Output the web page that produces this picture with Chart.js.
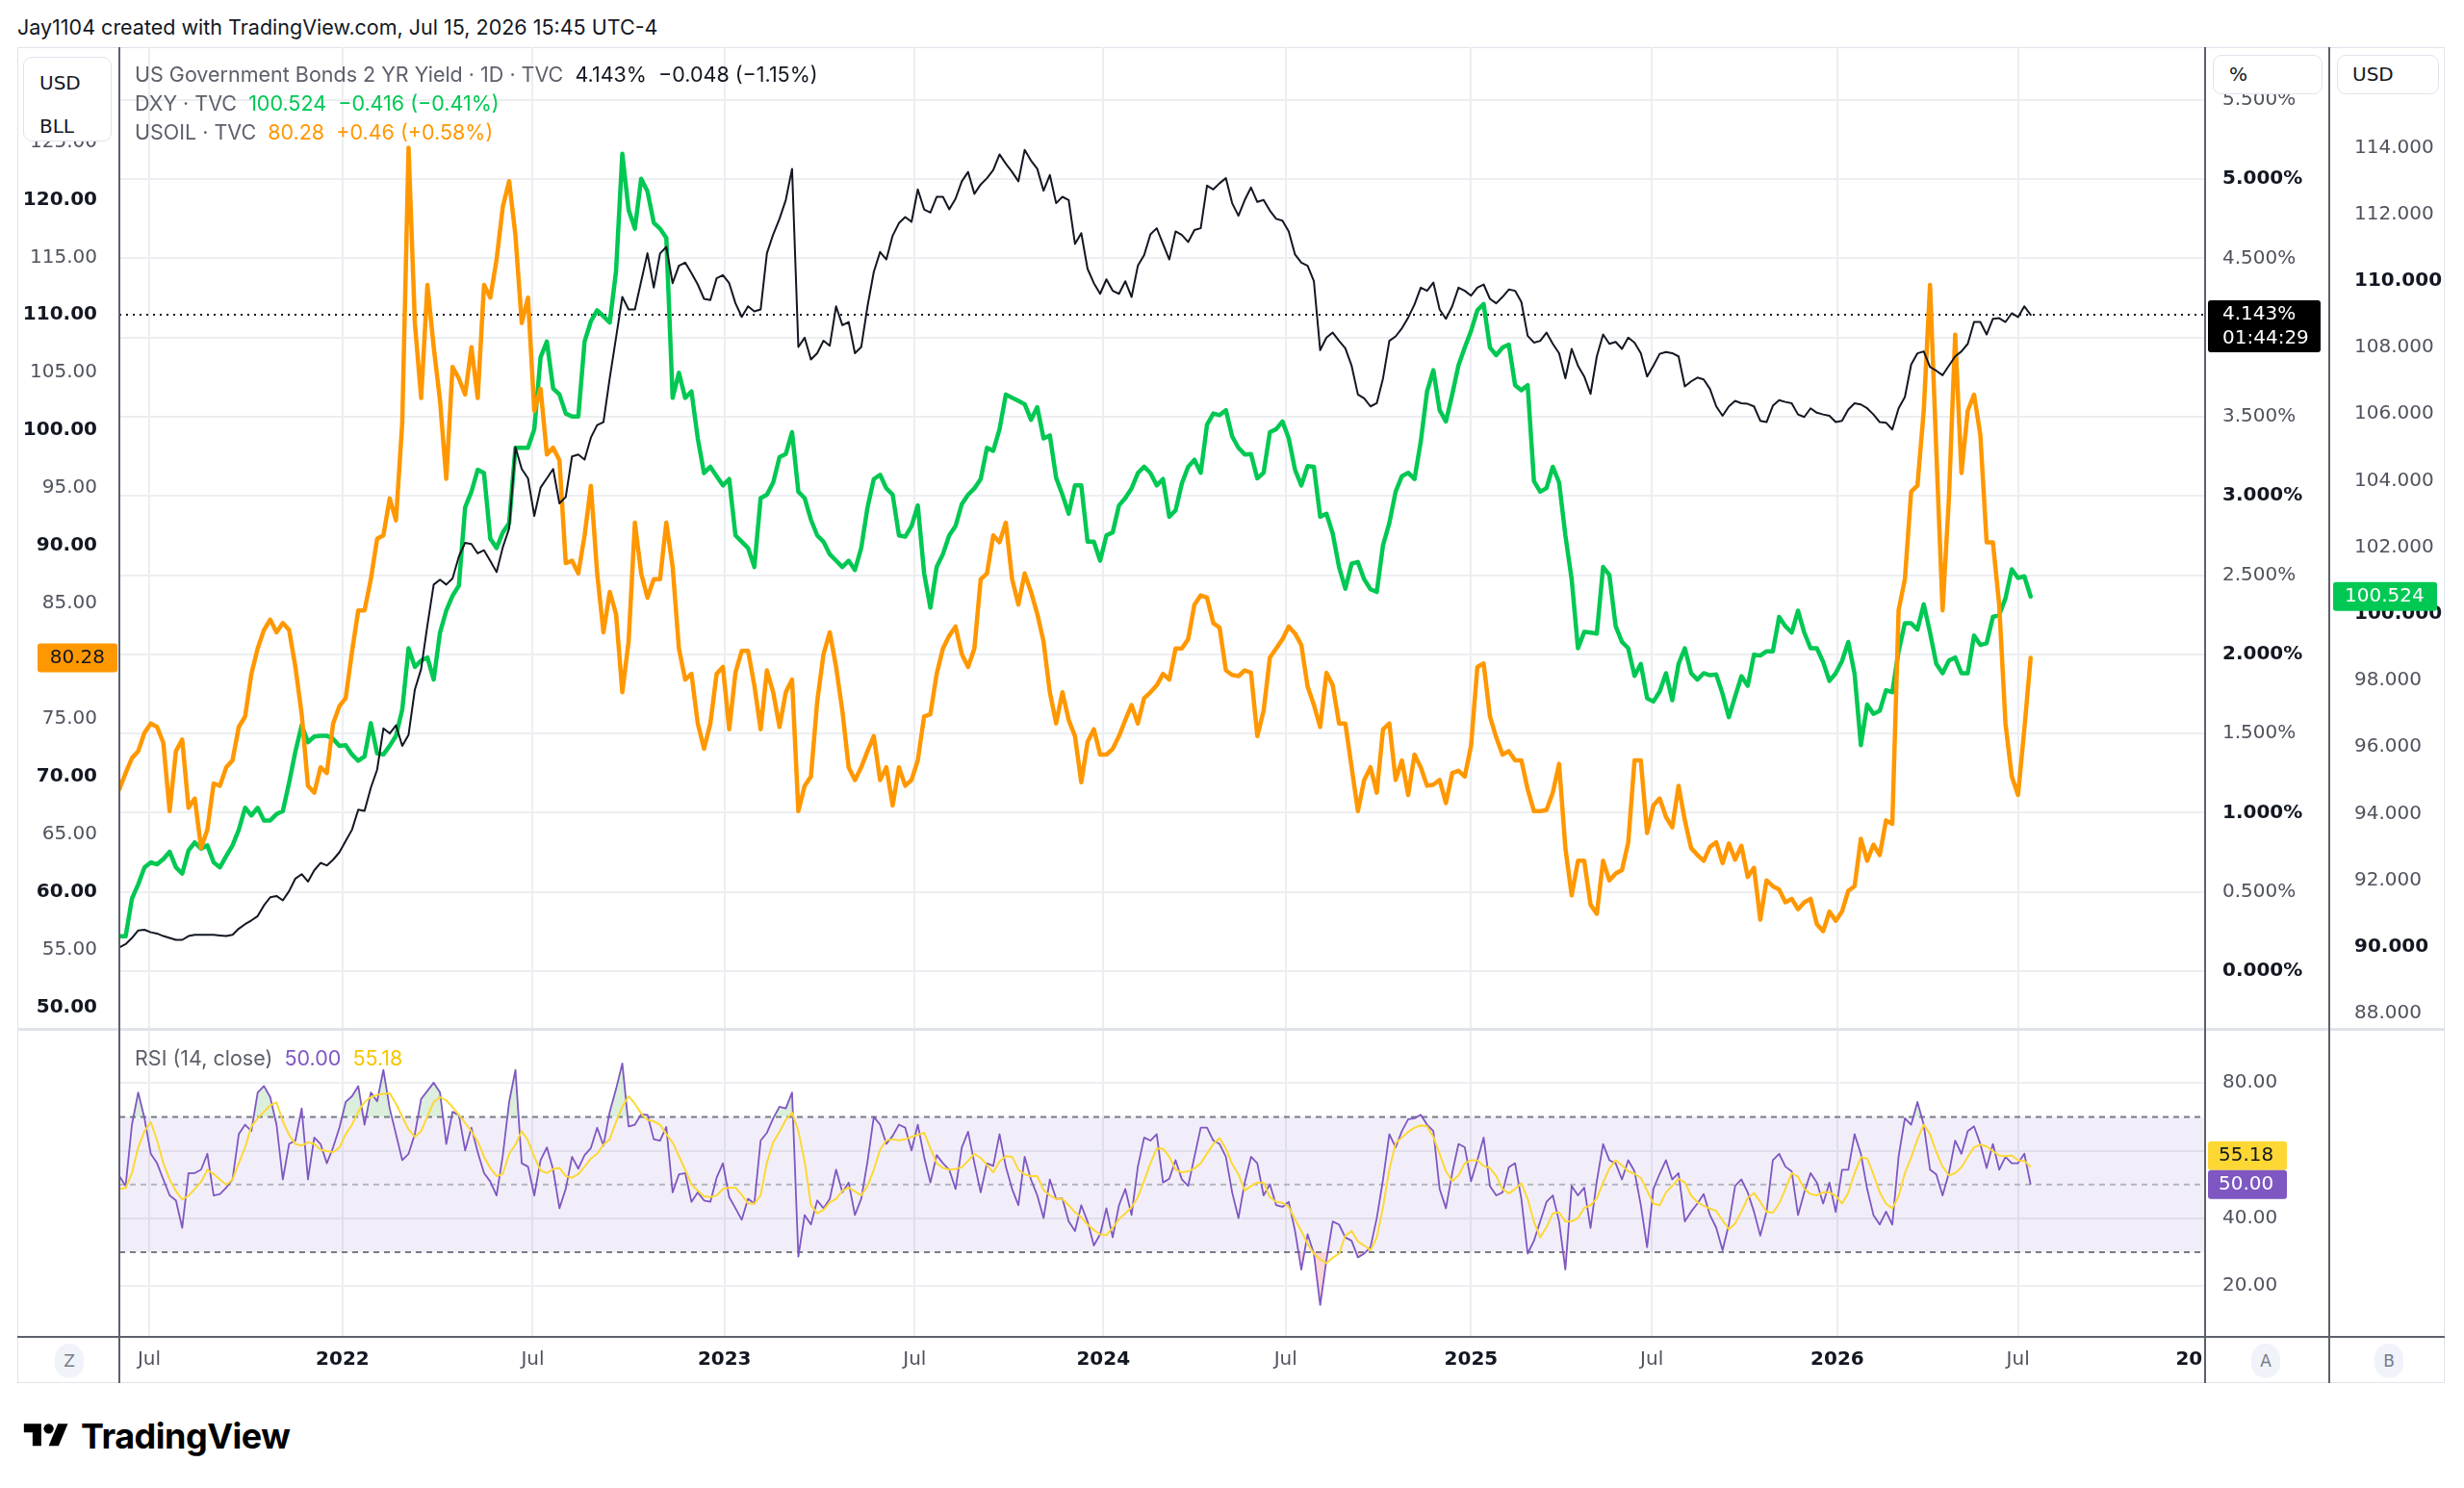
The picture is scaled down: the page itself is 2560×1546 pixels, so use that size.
<!DOCTYPE html>
<html>
<head>
<meta charset="utf-8">
<title>US02Y vs DXY vs USOIL</title>
<script src="https://cdn.jsdelivr.net/npm/chart.js@4.4.1/dist/chart.umd.min.js"></script>
<style>
  html, body { margin: 0; padding: 0; background: #fff; width: 2560px; height: 1546px; overflow: hidden;
    font-family: Inter, "Noto Sans", "Liberation Sans", sans-serif; color: #131722; }
  .abs { position: absolute; }
  #hdr { left: 18px; top: 14px; font-size: 21.5px; line-height: 28px; }
  #frame { left: 18px; top: 49px; width: 2522px; height: 1388px; border: 1px solid #e0e3eb; box-sizing: border-box; }
  canvas { position: absolute; }
  .vline { width: 2px; background: #5d606b; top: 49px; height: 1388px; z-index: 3; }
  .legend { left: 140px; font-size: 21.5px; line-height: 30px; color: #5d606b; z-index: 4; white-space: pre; }
  .box { background: #fff; border: 1px solid #e0e3eb; border-radius: 9px; box-sizing: border-box; z-index: 5;
    font-family: "DejaVu Sans", sans-serif; font-size: 20px; color: #131722; }
  .pill { width: 30px; height: 36px; border-radius: 15px; background: #f0f3fa; color: #787b86; z-index: 5;
    font-family: "DejaVu Sans", sans-serif; font-size: 17px; line-height: 36px; text-align: center; }
  #logo { left: 20px; top: 1470px; display: flex; align-items: center; gap: 8px; font-weight: 700; font-size: 36px;
    letter-spacing: -0.5px; color: #000; }
</style>
</head>
<body>
<div id="hdr" class="abs">Jay1104 created with TradingView.com, Jul 15, 2026 15:45 UTC-4</div>
<div id="frame" class="abs"></div>
<canvas id="main" width="2522" height="1020" style="left:18px;top:49px;width:2522px;height:1020px"></canvas>
<canvas id="rsi" width="2522" height="368" style="left:18px;top:1069px;width:2522px;height:368px"></canvas>

<div class="abs" style="left:18px;top:1068px;width:2522px;height:3px;background:#e0e3eb;z-index:2"></div>
<div class="abs" style="left:18px;top:1388px;width:2522px;height:2px;background:#5d606b;z-index:2"></div>
<div class="abs vline" style="left:123px"></div>
<div class="abs vline" style="left:2290px"></div>
<div class="abs vline" style="left:2419px"></div>

<div class="abs legend" style="top:62px">US Government Bonds 2 YR Yield · 1D · TVC  <span style="color:#131722">4.143%  −0.048 (−1.15%)</span>
DXY · TVC  <span style="color:#00c853">100.524  −0.416 (−0.41%)</span>
USOIL · TVC  <span style="color:#ff9800">80.28  +0.46 (+0.58%)</span></div>
<div class="abs legend" style="top:1084px">RSI (14, close)  <span style="color:#7e57c2">50.00</span>  <span style="color:#f7c600">55.18</span></div>

<div class="abs box" style="left:24px;top:59px;width:92px;height:88px;padding:4px 0 0 16px;line-height:45px">USD<br>BLL</div>
<div class="abs box" style="left:2299px;top:57px;width:114px;height:41px;padding-left:16px;line-height:39px">%</div>
<div class="abs box" style="left:2428px;top:57px;width:106px;height:41px;padding-left:15px;line-height:39px">USD</div>

<div class="abs pill" style="left:57px;top:1396px">Z</div>
<div class="abs pill" style="left:2339px;top:1396px">A</div>
<div class="abs pill" style="left:2467px;top:1396px">B</div>

<div id="logo" class="abs">
  <svg width="56" height="36" viewBox="0 0 36 28"><path d="M14 22H7V11H0V4h14v18z" fill="#000"/><circle cx="20" cy="8" r="4" fill="#000"/><path d="M28 22h-8l7.5-18h8L28 22z" fill="#000"/></svg>
  <span>TradingView</span>
</div>

<script>
// ===== DATA (one sample every ~4 screen px, Jun 2021 -> Jul 15 2026) =====
const US02Y = [
  0.150, 0.170, 0.209, 0.257, 0.261, 0.245, 0.237, 0.221, 0.209, 0.197,
  0.197, 0.221, 0.229, 0.229, 0.229, 0.229, 0.225, 0.221, 0.229, 0.268,
  0.296, 0.320, 0.347, 0.415, 0.466, 0.474, 0.446, 0.505, 0.584, 0.612,
  0.565, 0.636, 0.683, 0.667, 0.703, 0.750, 0.821, 0.892, 1.019, 1.011,
  1.157, 1.271, 1.532, 1.500, 1.552, 1.421, 1.492, 1.777, 1.907, 2.183,
  2.440, 2.471, 2.440, 2.479, 2.617, 2.704, 2.696, 2.637, 2.657, 2.590,
  2.519, 2.677, 2.795, 3.308, 3.170, 3.111, 2.874, 3.052, 3.111, 3.170,
  2.953, 2.993, 3.249, 3.261, 3.229, 3.368, 3.447, 3.466, 3.743, 3.999,
  4.256, 4.177, 4.177, 4.355, 4.532,
  4.315, 4.530, 4.572, 4.343, 4.453, 4.473, 4.406, 4.335, 4.244, 4.236,
  4.374, 4.394, 4.343, 4.216, 4.130, 4.197, 4.165, 4.177, 4.532, 4.651,
  4.749, 4.868, 5.065, 3.940, 3.999, 3.861, 3.901, 3.980, 3.948, 4.197,
  4.078, 4.098, 3.901, 3.940, 4.197, 4.414, 4.540, 4.493, 4.643, 4.722,
  4.761, 4.730, 4.935, 4.809, 4.789, 4.888, 4.888, 4.809, 4.876, 4.986,
  5.045, 4.907, 4.966, 5.006, 5.057, 5.156, 5.097, 5.045, 4.986, 5.184,
  5.117, 5.065, 4.927, 5.026, 4.848, 4.888, 4.868, 4.591, 4.659, 4.434,
  4.343, 4.276, 4.367, 4.295, 4.276, 4.355, 4.256, 4.453, 4.520, 4.651,
  4.690, 4.591, 4.493, 4.670,
  4.647, 4.603, 4.678, 4.690, 4.959, 4.935, 4.974, 5.006, 4.848, 4.769,
  4.868, 4.947, 4.856, 4.868, 4.801, 4.749, 4.738, 4.670, 4.524, 4.473,
  4.453, 4.355, 3.920, 3.999, 4.031, 3.979, 3.932, 3.822, 3.640, 3.616,
  3.565, 3.585, 3.743, 3.979, 4.007, 4.058, 4.126, 4.208, 4.315, 4.295,
  4.347, 4.177, 4.118, 4.197, 4.315, 4.295, 4.264, 4.315, 4.335, 4.244,
  4.216, 4.256, 4.303, 4.295, 4.224, 4.011, 3.968, 3.979, 4.031, 3.960,
  3.901, 3.743, 3.928, 3.822, 3.754, 3.644, 3.881, 4.019, 3.960, 3.972,
  3.928, 3.999, 3.968, 3.901, 3.754, 3.822, 3.897, 3.908, 3.901, 3.881,
  3.691, 3.723, 3.747, 3.735,
  3.675, 3.565, 3.506, 3.565, 3.600, 3.585, 3.581, 3.565, 3.474, 3.466,
  3.569, 3.604, 3.593, 3.585, 3.514, 3.498, 3.553, 3.525, 3.514, 3.506,
  3.466, 3.474, 3.545, 3.585, 3.577, 3.553, 3.514, 3.466, 3.462, 3.419,
  3.553, 3.624, 3.829, 3.900, 3.912, 3.814, 3.790, 3.762, 3.822, 3.881,
  3.912, 3.960, 4.098, 4.098, 4.019, 4.118, 4.122, 4.098, 4.153, 4.129,
  4.197, 4.143
];
const DXY = [
  90.32, 90.32, 91.45, 91.88, 92.39, 92.54, 92.48, 92.64, 92.86, 92.39,
  92.20, 92.90, 93.14, 92.95, 93.05, 92.54, 92.39, 92.73, 93.05, 93.52,
  94.18, 93.95, 94.18, 93.80, 93.80, 93.99, 94.08, 94.93, 95.87, 96.66,
  96.15, 96.32, 96.34, 96.34, 96.25, 96.04, 96.06, 95.78, 95.59, 95.72,
  96.72, 95.81, 95.78, 96.04, 96.34, 97.13, 98.97, 98.41, 98.60, 98.69,
  98.03, 99.44, 100.10, 100.55, 100.85, 103.20, 103.67, 104.33, 104.23, 102.26,
  101.98, 102.45, 102.73, 104.99, 104.99, 104.99, 105.55, 107.71, 108.18, 106.77,
  106.59, 106.02, 105.93, 105.93, 108.18, 108.79, 109.12, 108.94, 108.75, 110.29,
  113.82, 112.13, 111.57, 113.07, 112.69,
  111.75, 111.57, 111.29, 106.49, 107.24, 106.49, 106.68, 105.27, 104.23, 104.42,
  104.14, 103.86, 104.05, 102.36, 102.17, 101.98, 101.41, 103.48, 103.58, 103.95,
  104.71, 104.80, 105.46, 103.67, 103.48, 102.83, 102.36, 102.17, 101.79, 101.60,
  101.41, 101.60, 101.32, 101.98, 103.20, 104.05, 104.18, 103.77, 103.58, 102.36,
  102.32, 102.64, 103.26, 101.23, 100.19, 101.41, 101.80, 102.36, 102.64, 103.30,
  103.58, 103.77, 104.05, 104.99, 104.90, 105.55, 106.59, 106.49, 106.40, 106.30,
  105.83, 106.21, 105.27, 105.36, 104.09, 103.58, 103.01, 103.86, 103.86, 102.17,
  102.17, 101.60, 102.36, 102.45, 103.26, 103.48, 103.77, 104.23, 104.42, 104.23,
  103.86, 104.05, 102.92, 103.11,
  103.92, 104.42, 104.63, 104.24, 105.68, 106.02, 105.97, 106.12, 105.33, 104.99,
  104.79, 104.80, 104.07, 104.24, 105.46, 105.55, 105.78, 105.27, 104.33, 103.86,
  104.44, 104.42, 102.92, 103.01, 102.41, 101.41, 100.76, 101.51, 101.56, 101.04,
  100.74, 100.66, 102.07, 102.73, 103.67, 104.14, 104.24, 104.05, 105.18, 106.68,
  107.32, 106.12, 105.78, 106.59, 107.47, 108.00, 108.50, 109.12, 109.31, 108.00,
  107.77, 108.00, 108.09, 106.87, 106.72, 106.87, 103.99, 103.67, 103.78, 104.42,
  103.95, 102.36, 101.04, 98.97, 99.46, 99.44, 99.41, 101.41, 101.17, 99.63,
  99.16, 98.97, 98.14, 98.50, 97.47, 97.37, 97.67, 98.22, 97.41, 98.50,
  98.97, 98.22, 98.03, 98.22,
  98.16, 98.18, 97.60, 96.90, 97.52, 98.13, 97.84, 98.78, 98.75, 98.88,
  98.88, 99.91, 99.63, 99.44, 100.10, 99.44, 98.97, 98.97, 98.56, 97.99,
  98.22, 98.59, 99.16, 98.20, 96.06, 97.28, 97.00, 97.09, 97.71, 97.65,
  98.88, 99.72, 99.72, 99.53, 100.29, 99.44, 98.50, 98.22, 98.60, 98.69,
  98.22, 98.22, 99.35, 99.07, 99.12, 99.91, 99.97, 100.47, 101.34, 101.08,
  101.13, 100.524
];
const USOIL = [
  68.9, 70.3, 71.6, 72.2, 73.8, 74.6, 74.3, 72.9, 67.0, 72.2,
  73.2, 67.3, 68.1, 63.8, 65.4, 69.4, 69.2, 70.8, 71.4, 74.3,
  75.2, 78.9, 81.1, 82.7, 83.6, 82.5, 83.3, 82.7, 79.5, 75.4,
  69.2, 68.6, 70.8, 70.3, 74.6, 76.1, 76.8, 80.8, 84.4, 84.4,
  87.1, 90.6, 90.9, 94.1, 92.2, 100.7, 124.5, 109.3, 102.8, 112.6,
  107.2, 102.6, 95.8, 105.5, 104.5, 103.1, 107.2, 102.8, 112.6, 111.5,
  114.8, 119.4, 121.6, 116.9, 109.3, 111.5, 101.7, 103.6, 97.9, 98.5,
  97.4, 88.5, 88.7, 87.6, 90.9, 95.2, 87.6, 82.5, 86.0, 84.1,
  77.3, 81.7, 92.0, 87.6, 85.5,
  87.1, 87.1, 92.0, 88.2, 81.1, 78.4, 78.9, 74.6, 72.4, 74.6,
  78.9, 79.5, 74.1, 79.0, 80.9, 80.9, 77.9, 74.1, 79.2, 77.3,
  74.3, 77.3, 78.4, 67.0, 69.2, 70.0, 76.5, 80.6, 82.5, 79.5,
  75.7, 70.8, 69.7, 70.8, 72.2, 73.5, 69.7, 70.8, 67.5, 70.8,
  69.2, 69.7, 71.4, 75.2, 75.4, 78.9, 81.1, 82.2, 83.0, 80.6,
  79.5, 81.1, 87.1, 87.6, 90.9, 90.3, 92.0, 87.1, 84.9, 87.6,
  86.0, 84.1, 81.7, 77.3, 74.6, 77.3, 74.9, 73.5, 69.5, 73.0,
  74.1, 71.9, 71.9, 72.4, 73.5, 74.9, 76.2, 74.6, 76.8, 77.3,
  77.9, 78.9, 78.4, 81.1,
  81.1, 81.9, 84.9, 85.7, 85.5, 83.3, 82.9, 79.2, 78.8, 78.7,
  79.2, 79.0, 73.5, 75.7, 80.3, 81.1, 81.9, 83.0, 82.4, 81.4,
  77.8, 76.2, 74.3, 79.0, 77.9, 74.6, 74.6, 70.8, 67.0, 69.7,
  70.8, 68.6, 74.1, 74.6, 69.7, 71.4, 68.4, 71.9, 70.8, 69.2,
  69.3, 69.7, 67.7, 70.3, 70.5, 70.0, 72.7, 79.5, 79.8, 75.2,
  73.4, 71.9, 72.2, 71.4, 71.4, 68.9, 67.0, 67.0, 67.1, 68.6,
  71.1, 63.8, 59.7, 62.7, 62.7, 58.9, 58.1, 62.7, 61.0, 61.6,
  61.9, 64.3, 71.4, 71.4, 65.1, 67.5, 68.1, 66.5, 65.6, 69.2,
  66.2, 63.8, 63.2, 62.7,
  63.9, 64.3, 62.5, 64.2, 62.8, 64.0, 61.3, 62.1, 57.6, 61.0,
  60.5, 60.2, 59.1, 59.4, 58.5, 59.1, 59.4, 57.2, 56.6, 58.3,
  57.5, 58.3, 60.1, 60.5, 64.6, 62.7, 64.1, 63.2, 66.2, 65.9,
  84.4, 87.1, 94.7, 95.2, 101.7, 112.6, 98.2, 84.4, 94.1, 108.3,
  96.3, 101.7, 103.1, 99.6, 90.3, 90.3, 84.9, 74.6, 70.0, 68.4,
  74.1, 80.28
];
const RSI = [
  52.5, 49.6, 67.7, 77.2, 69.6, 59.1, 56.3, 51.5, 46.8, 45.3,
  37.2, 53.4, 53.4, 54.4, 59.1, 46.8, 47.2, 49.1, 51.5, 64.9,
  67.7, 65.8, 77.2, 79.1, 75.8, 67.7, 51.5, 62.0, 63.0, 72.5,
  51.5, 63.9, 62.0, 56.3, 61.0, 66.8, 74.4, 76.1, 79.1, 67.7,
  77.2, 74.6, 83.9, 72.5, 64.9, 57.2, 59.1, 64.9, 75.3, 77.7,
  80.1, 77.2, 62.0, 71.5, 70.6, 60.1, 66.8, 59.6, 53.4, 50.9,
  46.8, 58.7, 74.4, 83.9, 56.3, 55.3, 46.8, 57.2, 61.0, 54.4,
  43.0, 48.7, 58.2, 54.7, 58.7, 60.8, 66.8, 61.5, 71.5, 78.2,
  85.8, 67.2, 67.7, 70.8, 70.6, 63.4, 63.0, 67.0, 47.7, 53.0,
  53.4, 44.9, 47.7, 45.3, 44.9, 52.0, 56.3, 46.3, 43.0, 39.6,
  45.8, 44.4, 63.0, 65.3, 69.6, 73.0, 72.5, 77.2, 28.7, 41.0,
  38.2, 45.3,
  43.0, 45.8, 54.4, 47.7, 50.6, 41.0, 45.8, 56.8, 70.0, 67.7,
  62.0, 64.4, 67.7, 66.8, 60.1, 67.7, 58.2, 50.6, 58.7, 56.3,
  54.4, 48.7, 61.0, 65.6, 56.3, 47.7, 56.3, 55.5, 64.9, 55.3,
  48.7, 43.9, 58.2, 51.5, 46.8, 40.1, 51.5, 45.8, 45.9, 39.1,
  36.3, 43.9, 39.1, 32.0, 35.3, 43.0, 34.4, 43.9, 48.7, 41.0,
  55.3, 63.9, 63.0, 64.9, 50.6, 51.7, 57.2, 51.5, 49.6, 58.2,
  66.8, 66.8, 63.0, 62.0, 58.2, 47.7, 40.1, 50.6, 58.2, 56.3,
  46.8, 50.1, 43.9, 43.4, 44.9, 36.3, 24.9, 35.3, 29.6, 14.4,
  27.7, 39.1, 38.2, 34.4, 33.4, 28.5, 29.6, 31.5, 40.1, 51.5,
  64.9, 61.0, 65.8, 69.3, 69.6, 70.6, 67.7, 65.8, 48.7, 43.0,
  53.4, 62.0, 61.0, 51.0, 57.2, 63.9, 49.6, 46.8, 47.7, 55.1,
  56.3, 45.8, 29.6, 33.4, 39.1, 44.9, 46.8, 39.1, 24.9, 49.6,
  46.8, 49.1, 37.2, 51.0, 62.0, 57.2, 56.3, 51.5, 57.2, 53.9,
  43.9, 31.5, 48.7, 53.2, 57.2, 51.5, 53.4, 39.1, 42.0, 44.4,
  47.2, 41.0, 37.2, 30.6, 38.2, 49.6, 51.5, 47.7, 42.0, 34.9,
  42.0, 57.2, 59.1, 55.3, 53.9, 41.0, 47.7, 53.4, 50.6, 44.4,
  50.6, 41.9, 54.4, 54.4, 64.9, 59.1, 48.7, 41.0, 38.2, 42.0,
  38.2, 58.2, 69.6, 67.7, 74.4, 67.7, 54.4, 53.0, 46.8, 53.4,
  63.0, 59.1, 65.8, 67.2, 62.0, 54.9, 62.0, 54.4, 58.2, 56.3,
  56.3, 59.1, 50.00
];
const RSI_MA = [
  48.7, 49.0, 53.4, 61.0, 65.8, 68.5, 63.0, 56.3, 51.5, 48.1,
  45.6, 46.7, 48.7, 50.8, 54.4, 53.1, 51.5, 49.9, 51.5, 56.3,
  61.0, 67.2, 69.6, 71.5, 73.4, 74.3, 68.7, 64.7, 62.0, 61.5,
  62.5, 62.0, 60.3, 59.9, 59.6, 60.9, 64.9, 67.7, 71.5, 74.4,
  75.8, 76.5, 76.8, 77.0, 73.9, 70.1, 66.3, 64.1, 65.8, 70.1,
  74.4, 75.8, 74.9, 72.9, 70.6, 68.2, 65.8, 62.8, 58.2, 54.9,
  52.5, 53.2, 59.1, 61.8, 65.8, 63.0, 58.2, 54.2, 53.4, 54.6,
  54.9, 52.5, 52.0, 53.1, 55.3, 57.7, 59.1, 61.8, 63.4, 68.5,
  73.0, 76.1, 73.9, 71.0, 69.1, 68.7, 67.7, 64.9, 62.5, 58.4,
  54.4, 50.0, 48.2, 46.5, 46.3, 46.8, 48.7, 49.1, 49.1, 47.0,
  44.4, 44.4, 46.8, 56.5, 62.5, 65.6, 69.1, 71.3, 65.8, 56.8,
  44.0, 41.5,
  42.5, 44.8, 45.8, 48.2, 49.1, 48.0, 46.8, 49.6, 54.4, 60.3,
  63.1, 63.4, 63.1, 63.4, 64.1, 64.7, 65.3, 60.8, 56.3, 54.9,
  54.4, 54.6, 55.1, 57.0, 59.1, 57.9, 55.8, 53.6, 56.8, 58.4,
  58.2, 54.4, 53.0, 52.5, 52.5, 48.4, 46.8, 45.8, 45.8, 43.9,
  41.8, 40.3, 38.2, 36.6, 35.3, 35.1, 37.2, 39.8, 41.5, 43.3,
  46.3, 51.1, 56.3, 60.7, 60.6, 58.2, 54.4, 53.6, 53.9, 54.8,
  56.3, 59.2, 62.0, 63.7, 60.6, 56.1, 53.0, 48.2, 49.6, 50.6,
  50.6, 46.3, 44.9, 44.6, 43.4, 39.7, 36.3, 32.5, 29.6, 27.9,
  26.8, 28.4, 29.6, 34.9, 36.3, 33.2, 32.0, 30.6, 34.4, 43.4,
  54.4, 62.2, 63.9, 65.6, 66.8, 67.5, 67.2, 64.1, 59.1, 53.9,
  51.0, 52.7, 56.3, 57.2, 57.2, 55.5, 54.9, 52.5, 48.7, 47.4,
  48.7, 50.4, 45.8, 39.0, 34.4, 37.4, 41.5, 41.8, 39.1, 39.1,
  40.1, 43.1, 43.9, 45.9, 50.6, 54.8, 57.2, 55.7, 53.9, 53.2,
  52.0, 48.2, 44.4, 43.9, 47.7, 49.6, 51.7, 50.6, 46.8, 44.8,
  43.7, 42.9, 42.2, 39.4, 36.8, 38.5, 42.0, 46.1, 47.5, 44.9,
  42.0, 41.7, 44.4, 48.7, 53.4, 52.3, 48.7, 47.2, 46.8, 47.7,
  47.7, 46.7, 44.4, 47.6, 53.4, 58.1, 57.7, 53.0, 47.7, 44.3,
  43.0, 46.5, 53.4, 58.0, 63.4, 67.7, 64.9, 59.6, 55.3, 52.7,
  53.4, 55.1, 58.2, 61.0, 61.8, 61.3, 59.9, 58.6, 58.4, 58.6,
  57.2, 57.0, 55.18
];

// time axis (positions in sample units)
const TIME_TICKS  = [4.75, 35.5, 65.75, 96.25, 126.5, 156.5, 185.5, 215.0, 243.75, 273.25, 302.0, 329.2];
const TIME_LABELS = ['Jul', '2022', 'Jul', '2023', 'Jul', '2024', 'Jul', '2025', 'Jul', '2026', 'Jul', '20'];
const X_MAX = 331.75;

const OIL_TICKS = [50, 55, 60, 65, 70, 75, 80, 85, 90, 95, 100, 105, 110, 115, 120, 125];
const PCT_TICKS = [0, 0.5, 1, 1.5, 2, 2.5, 3, 3.5, 4, 4.5, 5, 5.5];
const USD_TICKS = [88, 90, 92, 94, 96, 98, 100, 102, 104, 106, 108, 110, 112, 114];
const RSI_TICKS = [20, 40, 60, 80];
const RSI_BANDS = [70, 50, 30];

// ===== STYLE =====
const AXIS_FONT = 'DejaVu Sans';
const GRID = '#eceef1';
const C_YIELD = '#131722', C_DXY = '#00c853', C_OIL = '#ff9800';
const C_RSI = '#7e57c2', C_MA = '#fdd835';

Chart.defaults.font.family = AXIS_FONT;
Chart.defaults.font.size = 20;

const last = arr => arr[arr.length - 1];
const pts = arr => arr.map((v, i) => ({ x: i, y: v }));
const zeroPad = s => { s.paddingTop = 0; s.paddingBottom = 0; s.paddingLeft = 0; s.paddingRight = 0; };
const tickFont = isBold => ({ family: AXIS_FONT, size: 20, weight: isBold ? 'bold' : 'normal' });
const hideLast = c => (c.tick && c.tick.value > X_MAX - 3) ? 'rgba(0,0,0,0)' : GRID;

function yAxis(pos, weight, width, ticks, fmt, boldFn, extra) {
  return Object.assign({
    position: pos, weight: weight,
    border: { display: false },
    grid: { display: false },
    afterBuildTicks: s => { s.ticks = ticks.map(v => ({ value: v })); },
    afterFit: s => { s.width = width; zeroPad(s); },
    ticks: {
      autoSkip: false, padding: pos === 'left' ? 15 : 18,
      callback: v => fmt(v),
      font: c => tickFont(c.tick && boldFn(c.tick.value)),
      color: c => (c.tick && boldFn(c.tick.value)) ? '#131722' : '#50535e',
    },
  }, extra || {});
}

function drawTag(ctx, x, y, w, h, bg, fg, lines, tx, align) {
  ctx.fillStyle = bg;
  ctx.beginPath();
  ctx.roundRect(x, y, w, h, 3);
  ctx.fill();
  ctx.fillStyle = fg;
  ctx.font = '20px ' + AXIS_FONT;
  ctx.textAlign = align || 'left';
  ctx.textBaseline = 'middle';
  lines.forEach((t, i) => ctx.fillText(t, tx, y + 15 + i * 25));
}

// ======== MAIN PANE ========
const mainMarks = {
  id: 'mainMarks',
  beforeDatasetsDraw(chart) {
    const { ctx, chartArea, scales } = chart;
    const y = scales.yPct.getPixelForValue(last(US02Y));
    ctx.save();
    ctx.setLineDash([2, 5]);
    ctx.strokeStyle = C_YIELD;
    ctx.lineWidth = 2;
    ctx.beginPath();
    ctx.moveTo(chartArea.left, y);
    ctx.lineTo(chartArea.right, y);
    ctx.stroke();
    ctx.restore();
  },
  afterDraw(chart) {
    const { ctx, scales } = chart;
    ctx.save();
    const yO = scales.yOil.getPixelForValue(last(USOIL));
    drawTag(ctx, scales.yOil.left + 21, yO - 15, scales.yOil.width - 23, 30, C_OIL, '#131722',
      [last(USOIL).toFixed(2)], scales.yOil.right - 15, 'right');
    const yP = scales.yPct.getPixelForValue(last(US02Y));
    drawTag(ctx, scales.yPct.left + 3, yP - 15, scales.yPct.width - 12, 54, '#000', '#fff',
      [last(US02Y).toFixed(3) + '%', '01:44:29'], scales.yPct.left + 18);
    const yD = scales.yUsd.getPixelForValue(last(DXY));
    drawTag(ctx, scales.yUsd.left + 4, yD - 15, scales.yUsd.width - 12, 30, C_DXY, '#fff',
      [last(DXY).toFixed(3)], scales.yUsd.left + 16);
    ctx.restore();
  },
};

new Chart(document.getElementById('main'), {
  type: 'line',
  data: {
    datasets: [
      { label: 'US02Y', data: pts(US02Y), yAxisID: 'yPct', borderColor: C_YIELD, borderWidth: 2 },
      { label: 'USOIL', data: pts(USOIL), yAxisID: 'yOil', borderColor: C_OIL, borderWidth: 4.5 },
      { label: 'DXY',   data: pts(DXY),   yAxisID: 'yUsd', borderColor: C_DXY, borderWidth: 4.5 },
    ],
  },
  options: {
    responsive: false, animation: false, devicePixelRatio: 1,
    layout: { padding: 0 },
    plugins: { legend: { display: false }, tooltip: { enabled: false } },
    elements: { point: { radius: 0 }, line: { tension: 0, borderJoinStyle: 'round', borderCapStyle: 'round' } },
    scales: {
      x: {
        type: 'linear', min: 0, max: X_MAX,
        border: { display: false },
        grid: { color: hideLast, lineWidth: 2, drawTicks: false },
        ticks: { display: false },
        afterBuildTicks: s => { s.ticks = TIME_TICKS.map(v => ({ value: v })); },
        afterFit: s => { s.height = 0; zeroPad(s); },
      },
      yOil: yAxis('left', 0, 106, OIL_TICKS, v => v.toFixed(2), v => v % 10 === 0, { min: 48.13, max: 133.21 }),
      yPct: yAxis('right', 0, 129, PCT_TICKS, v => v.toFixed(3) + '%', v => v % 1 === 0,
        { min: -0.365, max: 5.833, grid: { color: GRID, lineWidth: 2, drawTicks: false } }),
      yUsd: yAxis('right', 1, 120, USD_TICKS, v => v.toFixed(3), v => v % 10 === 0, { min: 87.54, max: 117.02 }),
    },
  },
  plugins: [mainMarks],
});

// ======== RSI PANE ========
const rsiMarks = {
  id: 'rsiMarks',
  beforeDatasetsDraw(chart) {
    const { ctx, chartArea, scales } = chart;
    const y = v => scales.yR.getPixelForValue(v);
    ctx.save();
    ctx.fillStyle = 'rgba(126,87,194,0.1)';
    ctx.fillRect(chartArea.left, y(RSI_BANDS[0]), chartArea.width, y(RSI_BANDS[2]) - y(RSI_BANDS[0]));
    ctx.lineWidth = 2;
    ctx.setLineDash([6, 5]);
    RSI_BANDS.forEach((b, i) => {
      ctx.strokeStyle = i === 1 ? '#b2b5be' : '#787b86';
      ctx.beginPath();
      ctx.moveTo(chartArea.left, y(b));
      ctx.lineTo(chartArea.right, y(b));
      ctx.stroke();
    });
    ctx.restore();
  },
  afterDraw(chart) {
    const { ctx, scales } = chart;
    const s = scales.yR;
    ctx.save();
    const y50 = s.getPixelForValue(last(RSI));
    const yMa = Math.min(s.getPixelForValue(last(RSI_MA)), y50 - 30);
    drawTag(ctx, s.left + 3, yMa - 15, 82, 30, C_MA, '#131722', [last(RSI_MA).toFixed(2)], s.left + 14);
    drawTag(ctx, s.left + 3, y50 - 15, 82, 30, C_RSI, '#fff', [last(RSI).toFixed(2)], s.left + 14);
    ctx.restore();
  },
};

const dummyAxis = (pos, weight, width) => ({
  position: pos, weight: weight, display: true,
  border: { display: false }, grid: { display: false }, ticks: { display: false },
  afterFit: s => { s.width = width; zeroPad(s); },
});

new Chart(document.getElementById('rsi'), {
  type: 'line',
  data: {
    datasets: [
      { label: 'RSI MA', data: pts(RSI_MA), yAxisID: 'yR', borderColor: C_MA, borderWidth: 2 },
      { label: 'RSI', data: pts(RSI), yAxisID: 'yR', borderColor: C_RSI, borderWidth: 1.8,
        fill: { target: { value: 70 }, above: 'rgba(76,175,80,0.2)', below: 'rgba(0,0,0,0)' } },
      { label: 'RSI low', data: pts(RSI), yAxisID: 'yR', borderColor: 'rgba(0,0,0,0)', borderWidth: 0,
        fill: { target: { value: 30 }, above: 'rgba(0,0,0,0)', below: 'rgba(242,54,69,0.2)' } },
    ],
  },
  options: {
    responsive: false, animation: false, devicePixelRatio: 1,
    layout: { padding: 0 },
    plugins: { legend: { display: false }, tooltip: { enabled: false } },
    elements: { point: { radius: 0 }, line: { tension: 0, borderJoinStyle: 'round' } },
    scales: {
      x: {
        type: 'linear', min: 0, max: X_MAX, position: 'bottom',
        border: { display: false },
        grid: { color: hideLast, lineWidth: 2, drawTicks: false },
        afterBuildTicks: s => { s.ticks = TIME_TICKS.map(v => ({ value: v })); },
        afterFit: s => { s.height = 48; zeroPad(s); },
        ticks: {
          autoSkip: false, maxRotation: 0, padding: 12,
          callback: (v, i) => TIME_LABELS[i],
          font: c => tickFont(/^\d/.test(TIME_LABELS[c.index] || '')),
          color: c => /^\d/.test(TIME_LABELS[c.index] || '') ? '#131722' : '#50535e',
        },
      },
      yL: dummyAxis('left', 0, 106),
      yR: {
        position: 'right', weight: 0, min: 5, max: 96,
        border: { display: false },
        grid: { color: GRID, lineWidth: 2, drawTicks: false },
        afterBuildTicks: s => { s.ticks = RSI_TICKS.map(v => ({ value: v })); },
        afterFit: s => { s.width = 129; zeroPad(s); },
        ticks: { autoSkip: false, padding: 18, color: '#50535e', callback: v => v.toFixed(2) },
      },
      yB: dummyAxis('right', 1, 120),
    },
  },
  plugins: [rsiMarks],
});
</script>
</body>
</html>
